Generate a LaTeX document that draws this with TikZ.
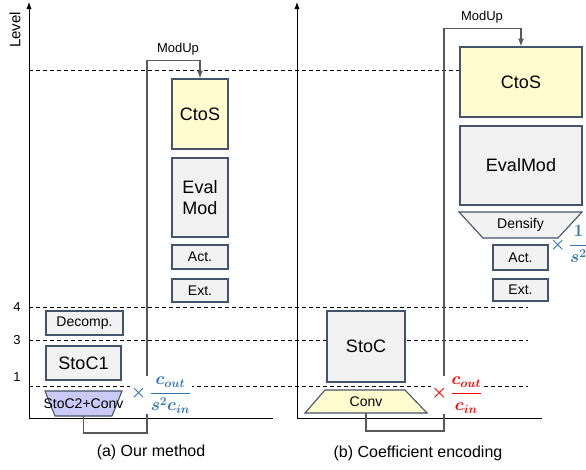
\documentclass[tikz,border=0pt]{standalone}
\usepackage{amsmath}
\usepackage{fontspec}
\setmainfont{Liberation Sans}
\usetikzlibrary{arrows.meta}
\definecolor{boxline}{HTML}{44546A}
\definecolor{boxgray}{HTML}{F2F2F2}
\definecolor{boxyellow}{HTML}{FFFCCF}
\definecolor{boxpurple}{HTML}{CACAF7}
\definecolor{fracblue}{HTML}{2E75B6}
\definecolor{linegray}{HTML}{595959}
\begin{document}
\begin{tikzpicture}[x=1pt,y=-1pt,>=Latex,
	box/.style={draw=boxline, line width=1.1pt, fill=boxgray, inner sep=0pt},
	lvl/.style={dash pattern=on 4pt off 3pt, line width=0.8pt},
	modup/.style={draw=linegray, line width=1.1pt},
	txtbig/.style={font=\fontsize{18}{21}\selectfont},
	txtmid/.style={font=\fontsize{14}{16}\selectfont},
	txtsmall/.style={font=\fontsize{13}{15}\selectfont},
	frac/.style={fill=white, inner sep=1pt, font=\fontsize{17}{20}\selectfont\boldmath}]
	\useasboundingbox (0,0) rectangle (586,469);

	%level axes
	\draw[->, line width=0.9pt] (29,418) -- (29,2);
	\draw[->, line width=0.9pt] (297,418) -- (297,2);
	\draw[line width=0.9pt] (29,418) -- (273,418);
	\draw[line width=0.9pt] (297,418) -- (542,418);
	\node (level) at (15,30) [rotate=90, font=\fontsize{15}{17}\selectfont]{Level};

	\draw[lvl] (29,70) -- (460,70);
	\foreach \y/\l/\ly in {307/4/307, 340/3/340, 386/1/377}{
		\draw[lvl] (29,\y) -- (528,\y);
		\node (tick\l) at (17,\ly) [txtsmall]{\l};
	}

	%(a) our method
	\node (ctosA) at (200,114) [box, fill=boxyellow, minimum width=56pt, minimum height=70pt, txtbig]{CtoS};
	\node (evalA) at (200,197.5) [box, minimum width=56pt, minimum height=79pt, txtbig, align=center]{Eval\\Mod};
	\node (actA) at (200,257) [box, minimum width=56pt, minimum height=24pt, txtmid]{Act.};
	\node (extA) at (200,290.5) [box, minimum width=56pt, minimum height=23pt, txtmid]{Ext.};
	\node (decA) at (84.5,323) [box, minimum width=77pt, minimum height=24pt, txtmid]{Decomp.};
	\node (stocA) at (83.5,363) [box, minimum width=75pt, minimum height=34pt, txtbig]{StoC1};
	\draw[boxline, line width=1.1pt, fill=boxpurple] (45,391) -- (122,391) -- (112,416) -- (55,416) -- cycle;
	\node (convA) at (83.5,403.5) [minimum height=25pt, inner sep=0pt, txtmid]{StoC2+Conv};
	\draw[modup, ->] (convA.south) |- (147,433) |- ([yshift=18pt]ctosA.north) -- (ctosA.north);
	\node (modupA) at (178,49) [txtsmall]{ModUp};
	\node (fracA) at (161,395) [frac, text=fracblue]{$\times\,\dfrac{c_{out}}{s^2c_{in}}$};
	\node (capA) at (151,452) [font=\fontsize{16}{18}\selectfont]{(a) Our method};

	%(b) coefficient encoding
	\node (ctosB) at (521,82) [box, fill=boxyellow, minimum width=122pt, minimum height=70pt, txtbig]{CtoS};
	\node (evalB) at (521,165.5) [box, minimum width=122pt, minimum height=79pt, txtbig]{EvalMod};
	\draw[boxline, line width=1.1pt, fill=boxgray] (459,212) -- (582,212) -- (558,238) -- (483,238) -- cycle;
	\node (densB) at (520.5,225) [txtmid]{Densify};
	\node (actB) at (520.5,257.5) [box, minimum width=55pt, minimum height=25pt, txtmid]{Act.};
	\node (extB) at (520.5,290) [box, minimum width=55pt, minimum height=22pt, txtmid]{Ext.};
	\node (fracB1) at (569,244) [frac, fill=none, inner sep=0pt, text=fracblue]{$\times\,\dfrac{1}{s^2}$};
	\node (stocB) at (366,346.5) [box, minimum width=78pt, minimum height=71pt, txtbig]{StoC};
	\draw[boxline, line width=1.1pt, fill=boxyellow] (325,390) -- (405,390) -- (427,413) -- (305,413) -- cycle;
	\node (convB) at (366,401.5) [minimum height=23pt, inner sep=0pt, txtmid]{Conv};
	\draw[modup, ->] (convB.south) |- (444,431) |- ([yshift=18pt]ctosB.north) -- (ctosB.north);
	\node (modupB) at (482,17) [txtsmall]{ModUp};
	\node (fracB2) at (457,395) [frac, text=red]{$\times\,\dfrac{c_{out}}{c_{in}}$};
	\node (capB) at (418,453) [font=\fontsize{16}{18}\selectfont]{(b) Coefficient encoding};
\end{tikzpicture}
\end{document}
